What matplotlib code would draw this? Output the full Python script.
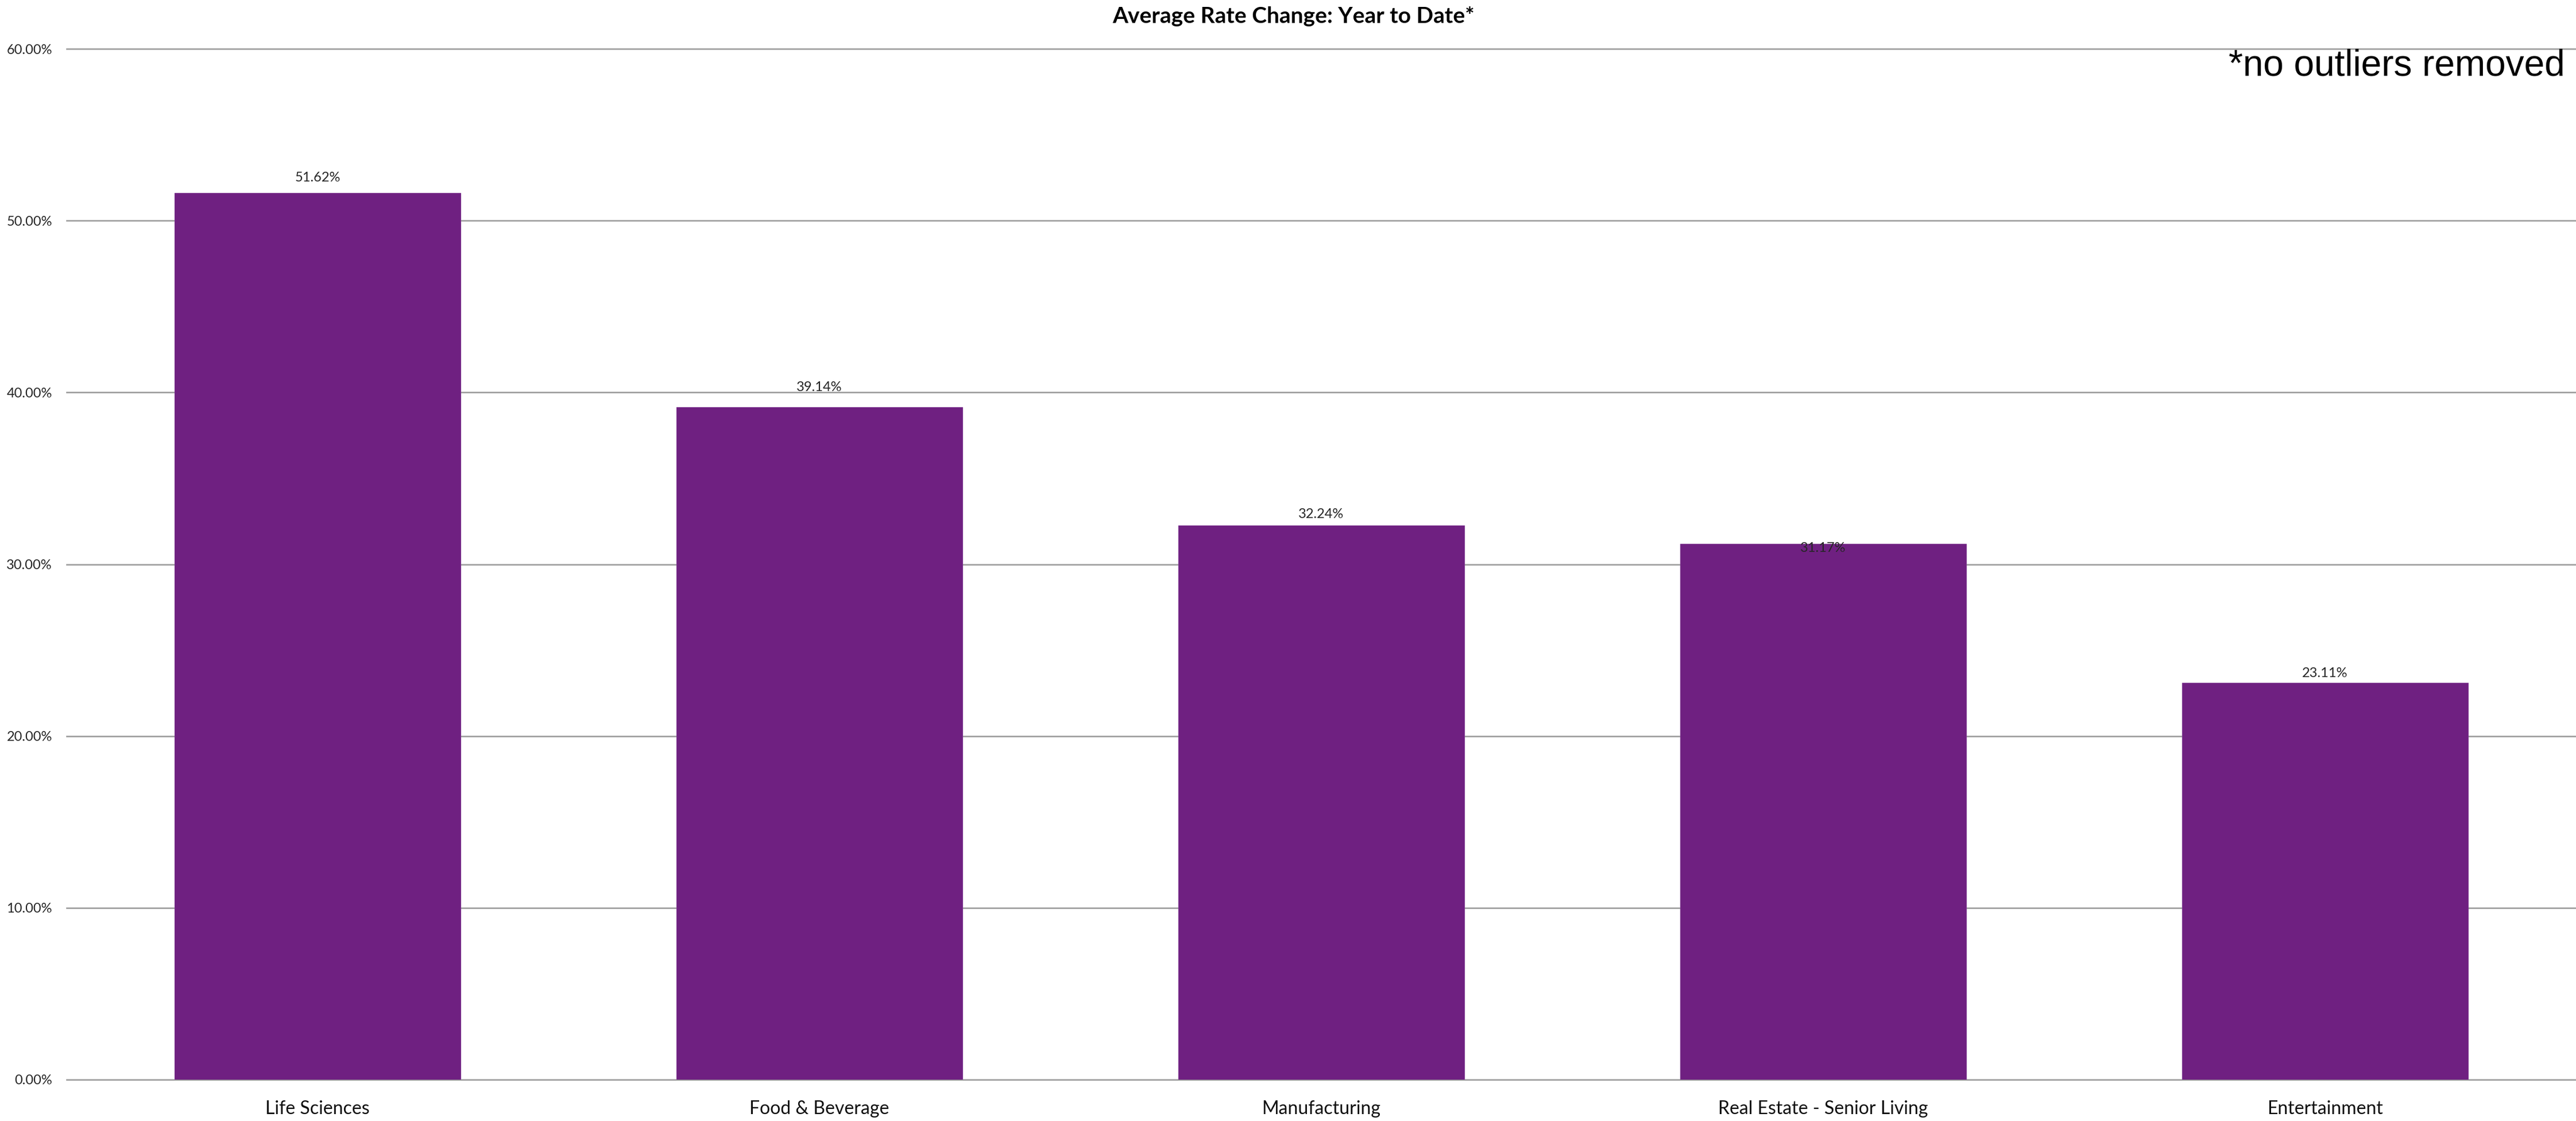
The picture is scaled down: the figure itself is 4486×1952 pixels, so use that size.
import matplotlib
matplotlib.use("Agg")
import matplotlib.pyplot as plt
import numpy as np

# Datos del grafico
categorias = ["Life Sciences", "Food & Beverage", "Manufacturing",
              "Real Estate - Senior Living", "Entertainment"]
valores = [51.62, 39.14, 32.24, 31.17, 23.11]
ticks_y = [0, 10, 20, 30, 40, 50, 60]

# Desplazamiento vertical de cada etiqueta (en pixeles, como en Excel)
desplazamiento_px = [26, 35, 20, -7, 16]

morado = "#6f2081"
gris = "#999999"

fig = plt.figure(figsize=(44.86, 19.52), dpi=100)
ax = fig.add_axes([116 / 4486, 1 - 1880 / 1952, 1 - 116 / 4486, (1880 - 85) / 1952])

# Barras
x = np.arange(len(categorias))
ax.bar(x, valores, width=0.57, color=morado, edgecolor="#7d3590", linewidth=0.8, zorder=3)

# Etiquetas de datos
for xi, v, d in zip(x, valores, desplazamiento_px):
    ax.annotate("{:.2f}%".format(v), (xi, v), xytext=(0, d * 0.72),
                textcoords="offset points", ha="center", va="center",
                fontsize=17, family="Lato", color="#262626", zorder=4)

# Ejes y lineas de cuadricula
ax.set_xlim(-0.5, len(categorias) - 0.5)
ax.set_ylim(0, 60)
ax.set_yticks(ticks_y)
ax.set_yticklabels(["{:.2f}%".format(t) for t in ticks_y], fontsize=17, family="Lato", color="#262626")
ax.set_xticks(x)
ax.set_xticklabels(categorias, fontsize=23, family="Lato", color="#111111")
ax.tick_params(axis="y", length=0, pad=18)
ax.tick_params(axis="x", length=0, pad=26)
ax.grid(axis="y", color=gris, linewidth=1.8, zorder=0)
for linea in ax.get_ygridlines():
    linea.set_clip_on(False)
for s in ax.spines.values():
    s.set_visible(False)

# Titulo y nota
fig.text(2253 / 4486, 1 - 28 / 1952, "Average Rate Change: Year to Date*", ha="center", va="center",
         fontsize=28, fontweight="bold", family="Lato", color="black")
fig.text(4467 / 4486, 1 - 131 / 1952, "*no outliers removed", ha="right", va="baseline",
         fontsize=46, family="Liberation Sans", color="black")

fig.savefig("out.png", dpi=100)
